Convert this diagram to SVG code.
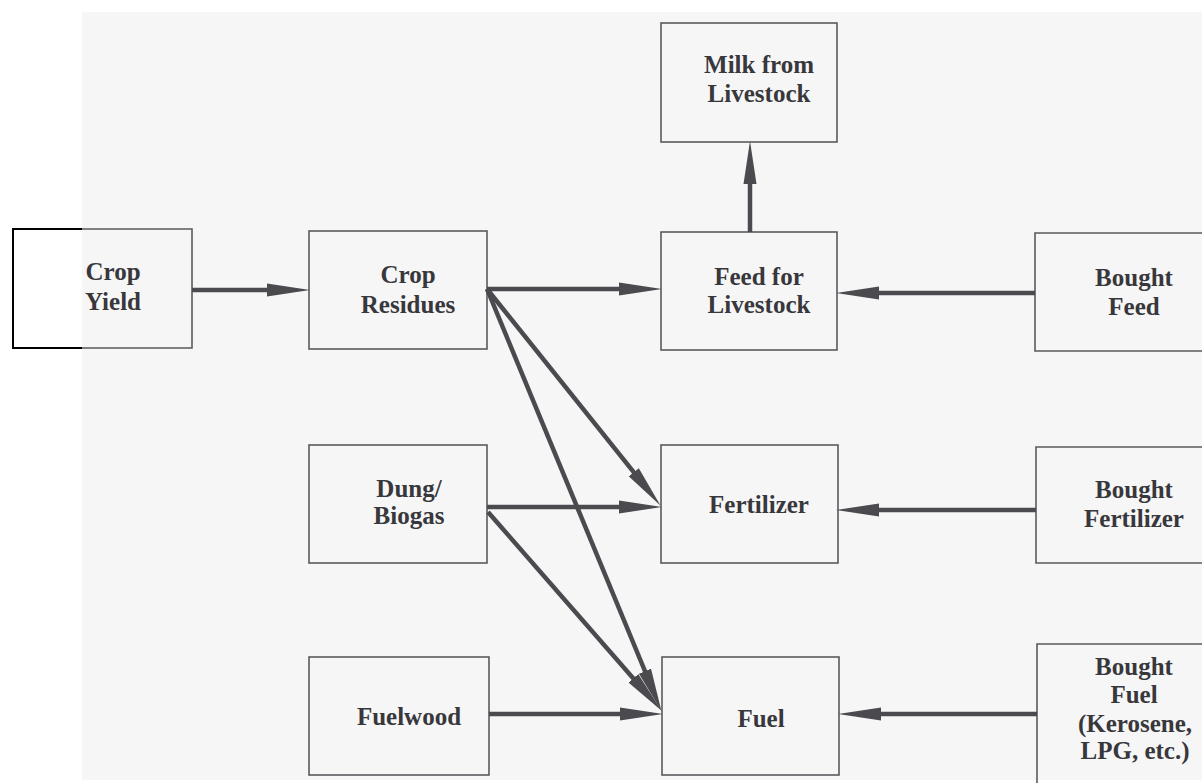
<svg xmlns="http://www.w3.org/2000/svg" width="1202" height="783" viewBox="0 0 1202 783">
<style>
.box{fill:none;stroke:#5a5a5e;stroke-width:1.6}
.lbl{font-family:'Liberation Serif','DejaVu Serif',serif;font-size:25px;font-weight:bold;fill:#38383c;text-anchor:middle}
.arr{stroke:#4a4a4f;stroke-width:4.5;fill:none;marker-end:url(#ah)}
</style>
<defs>
<marker id="ah" markerUnits="userSpaceOnUse" viewBox="0 -7 43 14" markerWidth="43" markerHeight="14" refX="22" refY="0" orient="auto">
<path d="M0,-6.5 L43,0 L0,6.5 Z" fill="#4a4a4f"/>
</marker>
</defs>
<rect x="0" y="0" width="1202" height="783" fill="#ffffff"/>
<rect x="82" y="12" width="1120" height="768" fill="#f6f6f7"/>

<g id="crop-yield">
<path d="M82,229 L13,229 L13,348 L82,348" fill="none" stroke="#000" stroke-width="2"/>
<path d="M82,229 L192,229 L192,348 L82,348" class="box"/>
<text class="lbl" x="113" y="280">Crop</text>
<text class="lbl" x="113" y="310">Yield</text>
</g>
<g id="crop-residues">
<rect class="box" x="309" y="231" width="178" height="118"/>
<text class="lbl" x="408" y="283">Crop</text>
<text class="lbl" x="408" y="313">Residues</text>
</g>
<g id="dung-biogas">
<rect class="box" x="309" y="445" width="178" height="118"/>
<text class="lbl" x="409" y="497">Dung/</text>
<text class="lbl" x="409" y="524">Biogas</text>
</g>
<g id="fuelwood">
<rect class="box" x="309" y="657" width="180" height="118"/>
<text class="lbl" x="409" y="725">Fuelwood</text>
</g>
<g id="milk">
<rect class="box" x="661" y="23" width="176" height="119"/>
<text class="lbl" x="759" y="73">Milk from</text>
<text class="lbl" x="759" y="102">Livestock</text>
</g>
<g id="feed">
<rect class="box" x="661" y="232" width="176" height="118"/>
<text class="lbl" x="759" y="285">Feed for</text>
<text class="lbl" x="759" y="313">Livestock</text>
</g>
<g id="fertilizer">
<rect class="box" x="661" y="445" width="177" height="118"/>
<text class="lbl" x="759" y="513">Fertilizer</text>
</g>
<g id="fuel">
<rect class="box" x="662" y="657" width="177" height="118"/>
<text class="lbl" x="761" y="727">Fuel</text>
</g>
<g id="bought-feed">
<path class="box" d="M1202,233 L1035,233 L1035,351 L1202,351"/>
<text class="lbl" x="1134" y="286">Bought</text>
<text class="lbl" x="1134" y="315">Feed</text>
</g>
<g id="bought-fertilizer">
<path class="box" d="M1202,447 L1036,447 L1036,563 L1202,563"/>
<text class="lbl" x="1134" y="498">Bought</text>
<text class="lbl" x="1134" y="527">Fertilizer</text>
</g>
<g id="bought-fuel">
<path class="box" d="M1202,644 L1037,644 L1037,783"/>
<text class="lbl" x="1134" y="675">Bought</text>
<text class="lbl" x="1134" y="703">Fuel</text>
<text class="lbl" x="1135" y="732">(Kerosene,</text>
<text class="lbl" x="1135" y="759">LPG, etc.)</text>
</g>

<g id="connectors">
<line class="arr" x1="192" y1="290" x2="289" y2="290"/>
<line class="arr" x1="487" y1="289" x2="641" y2="289"/>
<line class="arr" x1="1035" y1="293" x2="857" y2="293"/>
<line class="arr" x1="750" y1="232" x2="750" y2="162"/>
<line class="arr" x1="487" y1="289" x2="647.5" y2="489.4"/>
<line class="arr" x1="487" y1="289" x2="653.4" y2="691.5"/>
<line class="arr" x1="487" y1="507" x2="641" y2="507"/>
<line class="arr" x1="1036" y1="510" x2="857" y2="510"/>
<line class="arr" x1="488" y1="512" x2="647.8" y2="694.9"/>
<line class="arr" x1="489" y1="714" x2="642" y2="714"/>
<line class="arr" x1="1037" y1="714" x2="859" y2="714"/>
</g>
</svg>
